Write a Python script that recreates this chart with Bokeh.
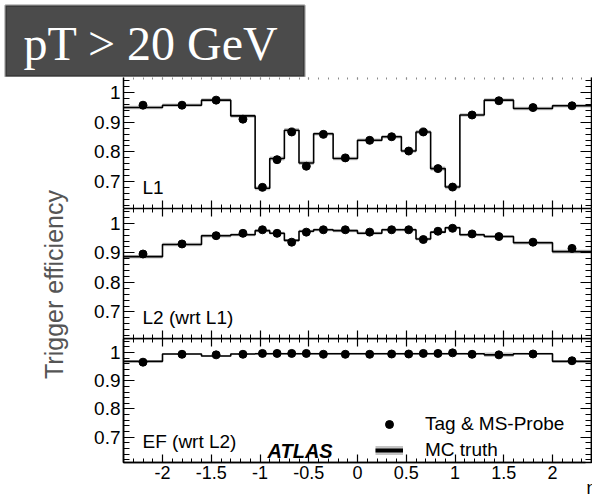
import math
from bokeh.plotting import figure
from bokeh.models import (Range1d, LinearAxis, SingleIntervalTicker, CustomJSTickFormatter,
                          Label, Legend, LegendItem, BoxAnnotation)
from bokeh.layouts import column, row
from bokeh.embed import file_html
from bokeh.resources import INLINE

# ---------------- data ----------------
eta_edges = [-2.4, -2.0, -1.6, -1.3, -1.05, -0.9, -0.75, -0.6, -0.45, -0.25, 0.0,
             0.25, 0.45, 0.6, 0.75, 0.9, 1.05, 1.3, 1.6, 2.0, 2.4]
eta_points = [-2.2, -1.8, -1.45, -1.175, -0.975, -0.825, -0.675, -0.525, -0.35, -0.125,
              0.125, 0.35, 0.525, 0.675, 0.825, 0.975, 1.175, 1.45, 1.8, 2.2]

l1_data = [0.957, 0.957, 0.974, 0.910, 0.681, 0.774, 0.867, 0.752, 0.859, 0.780,
           0.839, 0.851, 0.803, 0.867, 0.744, 0.682, 0.924, 0.972, 0.949, 0.955]
l1_mc = [0.949, 0.957, 0.974, 0.921, 0.678, 0.778, 0.873, 0.763, 0.861, 0.778,
         0.839, 0.851, 0.803, 0.867, 0.744, 0.682, 0.924, 0.974, 0.946, 0.955]
l1_mc_err = [0.006, 0.006, 0.006, 0.006, 0.007, 0.007, 0.007, 0.007, 0.006, 0.006,
             0.006, 0.006, 0.006, 0.007, 0.007, 0.007, 0.006, 0.006, 0.006, 0.006]

l2_data = [0.896, 0.930, 0.958, 0.966, 0.978, 0.966, 0.936, 0.970, 0.978, 0.978,
           0.970, 0.978, 0.978, 0.945, 0.973, 0.983, 0.964, 0.955, 0.936, 0.915]
l2_mc = [0.887, 0.928, 0.958, 0.961, 0.975, 0.966, 0.942, 0.973, 0.978, 0.975,
         0.966, 0.978, 0.978, 0.947, 0.970, 0.985, 0.961, 0.955, 0.934, 0.904]
l2_mc_err = [0.006, 0.006, 0.006, 0.005, 0.005, 0.005, 0.005, 0.005, 0.005, 0.005,
             0.005, 0.005, 0.005, 0.005, 0.005, 0.005, 0.005, 0.005, 0.006, 0.006]

ef_data = [0.966, 0.994, 0.992, 0.994, 0.997, 0.997, 0.997, 0.997, 0.994, 0.994,
           0.994, 0.995, 0.995, 0.997, 0.997, 0.999, 0.994, 0.992, 0.995, 0.971]
ef_mc = [0.969, 0.995, 0.988, 0.995, 0.996, 0.996, 0.996, 0.996, 0.996, 0.996,
         0.996, 0.996, 0.996, 0.996, 0.996, 0.996, 0.996, 0.992, 0.996, 0.969]
ef_mc_err = [0.004, 0.003, 0.003, 0.003, 0.003, 0.003, 0.003, 0.003, 0.003, 0.003,
             0.003, 0.003, 0.003, 0.003, 0.003, 0.003, 0.003, 0.008, 0.003, 0.004]

x_ticks_interval = 0.5
y_ticks_interval = 0.1
panel_names = ["L1", "L2 (wrt L1)", "EF (wrt L2)"]
legend_labels = ["Tag & MS-Probe", "MC truth"]
x_title = "η"
y_title = "Trigger efficiency"
box_title = "pT > 20 GeV"

# ---------------- styling ----------------
FONT = "Liberation Sans"
W_LABEL = 80
W = 592 - W_LABEL
LEFT_BORDER = 123 - W_LABEL
BAND = "#c4c4c4"
FMT = "return String(Math.round(tick * 100) / 100);"


def add_axis(p, side, ticker, major_in, minor_in, labels=False, font_size="18px",
             line_color="black", tick_color="black", standoff=2):
    ax = LinearAxis(ticker=ticker, formatter=CustomJSTickFormatter(code=FMT))
    ax.major_tick_in = major_in
    ax.major_tick_out = 0
    ax.minor_tick_in = minor_in
    ax.minor_tick_out = 0
    ax.axis_line_color = line_color
    ax.axis_line_width = 1.5
    ax.major_tick_line_color = tick_color
    ax.minor_tick_line_color = tick_color
    ax.major_tick_line_width = 1.2
    ax.minor_tick_line_width = 1
    if labels:
        ax.major_label_text_font = FONT
        ax.major_label_text_font_size = font_size
        ax.major_label_text_color = "black"
        ax.major_label_standoff = standoff
    else:
        ax.major_label_text_color = None
        ax.major_label_text_font_size = "0px"
        ax.major_label_standoff = 0
    p.add_layout(ax, side)
    return ax


def make_panel(height, data, mc, mc_err, name, bottom_border, x_labels, dotted_top):
    p = figure(width=W, height=height, x_range=Range1d(-2.4, 2.4), y_range=Range1d(0.61, 1.05),
               output_backend="svg", toolbar_location=None, min_border=0,
               min_border_left=LEFT_BORDER, min_border_right=1, min_border_top=0,
               min_border_bottom=bottom_border,
               x_axis_location=None, y_axis_location=None)
    p.grid.visible = False
    p.outline_line_color = None
    p.background_fill_color = "white"
    p.border_fill_color = "white"

    xt = SingleIntervalTicker(interval=x_ticks_interval, num_minor_ticks=5)
    yt = SingleIntervalTicker(interval=y_ticks_interval, num_minor_ticks=5)
    xax = add_axis(p, "below", xt, 8, 4, labels=x_labels, font_size="18px", standoff=3)
    if dotted_top:
        add_axis(p, "above", xt, 2, 2, line_color=None, tick_color="#8a8a8a")
    else:
        add_axis(p, "above", xt, 8, 4)
    add_axis(p, "left", yt, 11, 6, labels=True, font_size="19px", standoff=3)
    add_axis(p, "right", yt, 11, 6)

    p.quad(left=eta_edges[:-1], right=eta_edges[1:],
           bottom=[m - e for m, e in zip(mc, mc_err)],
           top=[m + e for m, e in zip(mc, mc_err)],
           fill_color=BAND, line_color=None)
    p.step(x=eta_edges, y=mc + [mc[-1]], mode="after", line_color="black", line_width=1.6)
    pts = p.scatter(x=eta_points, y=data, size=8, marker="circle",
                    fill_color="black", line_color="black")

    p.add_layout(Label(x=19, y=21, x_units="screen", y_units="screen", text=name,
                       text_font=FONT, text_font_size="19px", text_baseline="middle",
                       text_color="black"))
    return p, pts, xax


f1, pts1, _ = make_panel(131, l1_data, l1_mc, l1_mc_err, panel_names[0], 0, False, True)
f2, pts2, _ = make_panel(130, l2_data, l2_mc, l2_mc_err, panel_names[1], 0, False, False)
f3, pts3, xax3 = make_panel(162, ef_data, ef_mc, ef_mc_err, panel_names[2], 34, True, False)

# eta axis title, at the right end under the axis; the axis rule stops a little
# short so that the title sits left of the corner, the frame outline closes the line
f3.outline_line_color = "black"
f3.outline_line_width = 1.5
xax3.bounds = (-2.4, 2.34)
xax3.axis_label = x_title
xax3.axis_label_text_font = FONT
xax3.axis_label_text_font_size = "18px"
xax3.axis_label_text_font_style = "normal"
xax3.axis_label_text_color = "black"
xax3.axis_label_standoff = -4
for align in ("end", "right"):
    try:
        xax3.axis_label_align = align
        break
    except Exception:
        pass

# ATLAS label
f3.add_layout(Label(x=144, y=12, x_units="screen", y_units="screen", text="ATLAS",
                    text_font=FONT, text_font_size="20px", text_font_style="bold italic",
                    text_baseline="middle", text_color="black"))

# legend (proxy renderers for the MC truth entry; they draw nothing in the plot)
nan = float("nan")
proxy_band = f3.line(x=[nan, nan], y=[nan, nan], line_color=BAND, line_width=9)
proxy_line = f3.line(x=[nan, nan], y=[nan, nan], line_color="black", line_width=4)
legend = Legend(items=[LegendItem(label=legend_labels[0], renderers=[pts3]),
                       LegendItem(label=legend_labels[1], renderers=[proxy_band, proxy_line])],
                location=(252, 1), orientation="vertical")
legend.label_text_font = FONT
legend.label_text_font_size = "19px"
legend.label_text_color = "black"
legend.background_fill_alpha = 0
legend.border_line_color = None
legend.padding = 0
legend.margin = 0
legend.spacing = 4
legend.glyph_width = 28
legend.glyph_height = 20
legend.label_height = 20
legend.label_standoff = 22
f3.add_layout(legend)

# title box
t = figure(width=592, height=77, x_range=Range1d(0, 592), y_range=Range1d(0, 77),
           output_backend="svg", toolbar_location=None, min_border=0,
           x_axis_location=None, y_axis_location=None)
t.grid.visible = False
t.outline_line_color = None
t.add_layout(BoxAnnotation(left=5, right=304, bottom=1, top=72,
                           left_units="screen", right_units="screen",
                           bottom_units="screen", top_units="screen",
                           fill_color="#4b4b4b", fill_alpha=1.0,
                           line_color="black", line_width=2.5))
t.add_layout(Label(x=23, y=34, x_units="screen", y_units="screen", text=box_title,
                   text_font="Liberation Serif", text_font_size="48px",
                   text_color="white", text_baseline="middle"))

# y-axis title column
lab = figure(width=W_LABEL, height=423, x_range=Range1d(0, W_LABEL), y_range=Range1d(0, 423),
             output_backend="svg", toolbar_location=None, min_border=0,
             x_axis_location=None, y_axis_location=None)
lab.grid.visible = False
lab.outline_line_color = None
lab.add_layout(Label(x=53, y=216, x_units="screen", y_units="screen", text=y_title,
                     angle=math.pi / 2, text_font=FONT, text_font_size="25px",
                     text_color="#555555", text_align="center", text_baseline="middle"))

layout = column(t, row(lab, column(f1, f2, f3, spacing=0), spacing=0), spacing=0)

with open("out.html", "w") as fh:
    fh.write(file_html(layout, INLINE))
